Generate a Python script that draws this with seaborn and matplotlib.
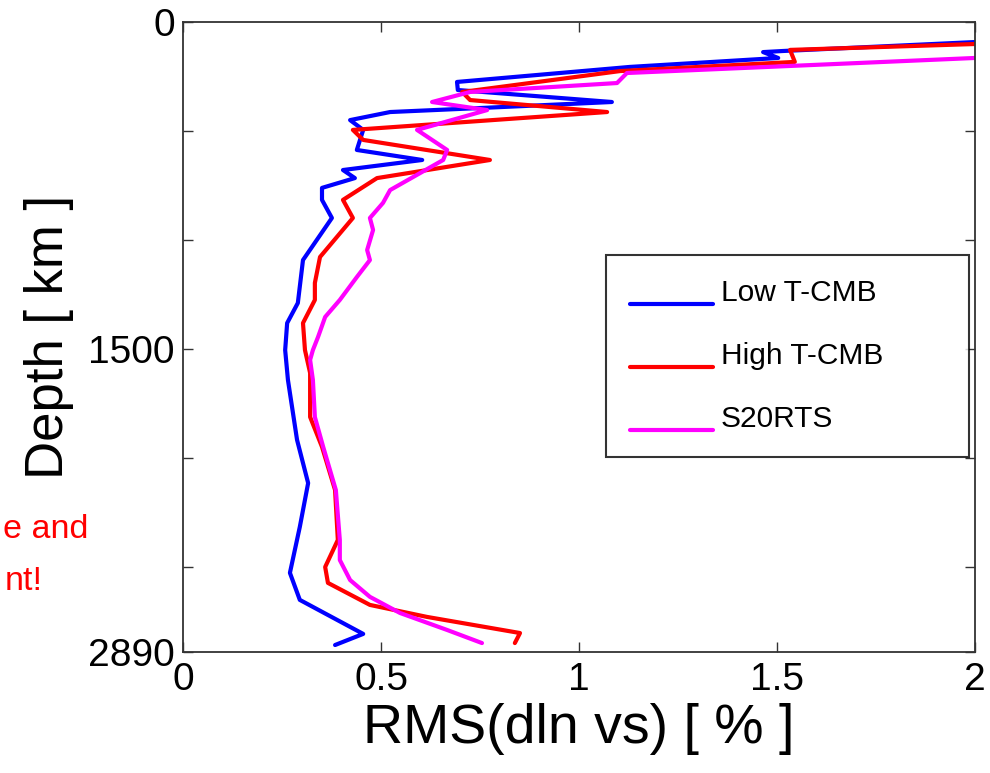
import numpy as np
import pandas as pd
import matplotlib
matplotlib.use("Agg")
import matplotlib.pyplot as plt
import seaborn as sns
from matplotlib.legend_handler import HandlerLine2D

# ---- data ----
low_rms = [2.0, 1.515, 1.465, 1.503, 1.129, 0.692, 0.694, 1.083, 0.758, 0.523, 0.422,
           0.455, 0.439, 0.604, 0.404, 0.434, 0.351, 0.351, 0.376, 0.303, 0.290, 0.263,
           0.258, 0.265, 0.288, 0.316, 0.295, 0.270, 0.295, 0.455, 0.384]
low_depth = [92, 133, 138, 165, 206, 275, 312, 367, 394, 413, 450,
             495, 587, 633, 679, 716, 761, 816, 899, 1092, 1289, 1381,
             1505, 1642, 1917, 2115, 2316, 2527, 2651, 2807, 2858]

high_rms = [2.0, 1.533, 1.545, 1.104, 0.705, 0.725, 1.071, 0.429, 0.455, 0.775, 0.490,
            0.404, 0.429, 0.346, 0.333, 0.333, 0.303, 0.308, 0.321, 0.321, 0.351, 0.384,
            0.391, 0.359, 0.366, 0.472, 0.616, 0.851, 0.838]
high_depth = [101, 128, 183, 225, 321, 358, 413, 495, 541, 633, 716,
              816, 899, 1078, 1197, 1275, 1381, 1505, 1610, 1812, 1949, 2147,
              2376, 2500, 2573, 2674, 2729, 2803, 2849]

s20_rms = [2.0, 1.121, 1.096, 0.725, 0.629, 0.768, 0.591, 0.667, 0.657, 0.523, 0.505,
           0.472, 0.480, 0.465, 0.472, 0.439, 0.396, 0.359, 0.341, 0.328, 0.321, 0.328,
           0.333, 0.354, 0.386, 0.396, 0.396, 0.422, 0.472, 0.548, 0.667, 0.755]
s20_depth = [165, 234, 280, 321, 367, 404, 495, 587, 633, 771, 830,
             899, 954, 1046, 1092, 1170, 1275, 1353, 1445, 1505, 1550, 1642,
             1812, 1949, 2147, 2376, 2468, 2560, 2637, 2711, 2789, 2849]

series_names = ["Low T-CMB", "High T-CMB", "S20RTS"]
series_colors = ["#0000FF", "#FF0000", "#FF00FF"]

x_ticks = [0, 0.5, 1, 1.5, 2]
x_ticklabels = ["0", "0.5", "1", "1.5", "2"]
y_ticks = [0, 500, 1000, 1500, 2000, 2500, 2890]
y_ticklabels = ["0", "", "", "1500", "", "", "2890"]

# ---- plotting ----
sns.set_theme(style="white")
plt.rcParams["font.family"] = ["Liberation Sans", "DejaVu Sans"]
plt.rcParams["text.color"] = "black"

fig = plt.figure(figsize=(9.9, 7.73), dpi=100)
ax = fig.add_axes([183 / 990, 1 - 652 / 773, (975 - 183) / 990, (652 - 22) / 773])

data = [(low_rms, low_depth), (high_rms, high_depth), (s20_rms, s20_depth)]
for (xv, yv), name, col in zip(data, series_names, series_colors):
    df = pd.DataFrame({"rms": xv, "depth": yv})
    sns.lineplot(data=df, x="rms", y="depth", sort=False, estimator=None,
                 color=col, lw=3.0, label=name, ax=ax)

ax.set_xlim(0, 2)
ax.set_ylim(2890, 0)
ax.set_xticks(x_ticks)
ax.set_xticklabels(x_ticklabels)
ax.set_yticks(y_ticks)
ax.set_yticklabels(y_ticklabels)
ax.tick_params(axis="both", direction="in", length=7, width=1, color="#333333",
               labelsize=28, labelcolor="black", top=True, right=True,
               left=True, bottom=True, pad=7)
ax.tick_params(axis="y", pad=6)
for sp in ax.spines.values():
    sp.set_visible(True)
    sp.set_color("#333333")
    sp.set_linewidth(1.3)

ax.set_xlabel("RMS(dln vs) [ % ]", fontsize=40, color="black", labelpad=4)
ax.set_ylabel("Depth [ km ]", fontsize=38, color="black", labelpad=10)


class LowerLine(HandlerLine2D):
    def create_artists(self, legend, orig_handle, xdescent, ydescent, width,
                       height, fontsize, trans):
        return super().create_artists(legend, orig_handle, xdescent,
                                      ydescent + 20, width, height, fontsize, trans)


handles, labels = ax.get_legend_handles_labels()
leg = ax.legend(handles, labels, loc="upper left",
                bbox_to_anchor=(0.534, 0.630, 0.458, 0.0), mode="expand",
                fontsize=21.5, frameon=True, fancybox=False, shadow=False,
                edgecolor="black", handlelength=2.8, handletextpad=0.25,
                labelspacing=1.17, borderpad=0.8, borderaxespad=0,
                handler_map={h: LowerLine() for h in handles})
leg.get_frame().set_linewidth(1.5)
for t in leg.get_texts():
    t.set_color("black")
for h in leg.get_lines():
    h.set_linewidth(3)

fig.text(88 / 990, 1 - 530 / 773, "e and", color="#FF0000", fontsize=24.5,
         ha="right", va="center")
fig.text(43 / 990, 1 - 582 / 773, "nt!", color="#FF0000", fontsize=24.5,
         ha="right", va="center")

fig.savefig("out.png", dpi=100)
